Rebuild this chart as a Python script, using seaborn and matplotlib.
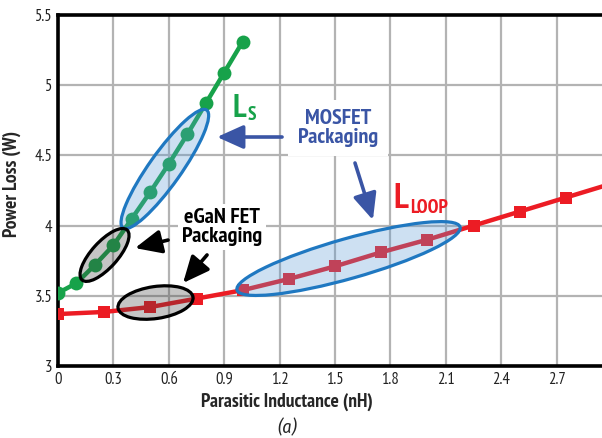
import numpy as np
import pandas as pd
import matplotlib
matplotlib.use("Agg")
import matplotlib.pyplot as plt
import seaborn as sns
from matplotlib.patches import Ellipse
from matplotlib.transforms import IdentityTransform

# ---------------- data ----------------
ls_x = [0.0, 0.1, 0.2, 0.3, 0.4, 0.5, 0.6, 0.7, 0.8, 0.9, 1.0]
ls_y = [3.52, 3.59, 3.72, 3.86, 4.05, 4.24, 4.44, 4.65, 4.87, 5.09, 5.31]
loop_x = [0.0, 0.25, 0.5, 0.75, 1.0, 1.25, 1.5, 1.75, 2.0, 2.25, 2.5, 2.75, 3.0]
loop_y = [3.37, 3.385, 3.42, 3.48, 3.54, 3.62, 3.71, 3.81, 3.90, 4.00, 4.10, 4.20, 4.30]
x_ticks = [0, 0.3, 0.6, 0.9, 1.2, 1.5, 1.8, 2.1, 2.4, 2.7]
x_tick_labels = ["0", "0.3", "0.6", "0.9", "1.2", "1.5", "1.8", "2.1", "2.4", "2.7"]
y_ticks = [3, 3.5, 4, 4.5, 5, 5.5]
y_tick_labels = ["3", "3.5", "4", "4.5", "5", "5.5"]

GREEN = "#17a24a"
RED = "#ec1c24"
BLUE_TXT = "#3a55a5"
BLUE_EDGE = "#1f78c1"

sns.set_style("white")
plt.rcParams["font.family"] = ["PT Sans Narrow", "Roboto Condensed", "DejaVu Sans"]

W, H = 602, 438
fig = plt.figure(figsize=(W / 100, H / 100), dpi=100)
ax = fig.add_axes([58 / W, (438 - 366) / H, (W - 58) / W, 351 / H])

df_ls = pd.DataFrame({"x": ls_x, "y": ls_y})
df_loop = pd.DataFrame({"x": loop_x, "y": loop_y})
sns.lineplot(data=df_loop, x="x", y="y", ax=ax, color=RED, lw=3.2, marker="s",
             markersize=8.5, markeredgewidth=0, zorder=4)
sns.lineplot(data=df_ls, x="x", y="y", ax=ax, color=GREEN, lw=3.2, marker="o",
             markersize=10, markeredgewidth=0, zorder=4)

ax.set_xlim(0, (W - 58) / 184.7)
ax.set_ylim(3, 5.5)
ax.set_xticks(x_ticks)
ax.set_xticklabels(x_tick_labels)
ax.set_yticks(y_ticks)
ax.set_yticklabels(y_tick_labels)
ax.grid(True, color="#b3b3b3", lw=1.6, zorder=0)
ax.set_axisbelow(True)
ax.tick_params(length=0, labelsize=12, pad=4, labelcolor="#222222")
for s in ["left", "top", "bottom"]:
    ax.spines[s].set_linewidth(2.6)
    ax.spines[s].set_color("black")
ax.spines["right"].set_visible(False)
ax.set_xlabel("Parasitic Inductance (nH)", fontsize=14, fontweight="bold")
ax.set_ylabel("Power Loss (W)", fontsize=14, fontweight="bold")
ax.xaxis.set_label_coords((287 - 58) / (W - 58), -0.075)
ax.yaxis.set_label_coords(-0.068, 0.52)
fig.text(287 / W, 1 - 428 / H, "(a)", fontsize=13, style="italic", fontweight="normal",
         ha="center", va="center",
         family=["Fira Sans Condensed", "Roboto Condensed", "DejaVu Sans"])

fig.canvas.draw()

def ellipse(p0, p1, minor_px, face, edge, alpha):
    a = ax.transData.transform(p0)
    b = ax.transData.transform(p1)
    c = (a + b) / 2
    d = b - a
    ang = np.degrees(np.arctan2(d[1], d[0]))
    L = np.hypot(*d)
    e = Ellipse(c, L, minor_px, angle=ang, transform=IdentityTransform(),
                facecolor=face, edgecolor="none", alpha=alpha, zorder=5)
    fig.add_artist(e)
    e2 = Ellipse(c, L, minor_px, angle=ang, transform=IdentityTransform(),
                 facecolor="none", edgecolor=edge, lw=2.3, zorder=6)
    fig.add_artist(e2)

ellipse((0.352, 3.983), (0.805, 4.823), 32, "#5b9bd5", BLUE_EDGE, 0.3)
ellipse((0.13, 3.613), (0.374, 3.969), 26, "#404040", "black", 0.3)
ellipse((0.325, 3.413), (0.731, 3.491), 32, "#404040", "black", 0.3)
ellipse((0.969, 3.541), (2.177, 3.990), 40, "#5b9bd5", BLUE_EDGE, 0.3)

def arrow(start, tip, color):
    ax.annotate("", xy=tip, xytext=start,
                arrowprops=dict(arrowstyle="-|>,head_length=1.0,head_width=0.45",
                                color=color, lw=2.6, mutation_scale=16,
                                shrinkA=0, shrinkB=0), zorder=7)

arrow((1.213, 4.631), (0.861, 4.631), BLUE_TXT)
arrow((1.608, 4.446), (1.705, 4.040), BLUE_TXT)
arrow((0.596, 3.897), (0.417, 3.840), "black")
arrow((0.807, 3.791), (0.677, 3.591), "black")

ax.text(1.516, 4.695, "MOSFET\nPackaging", color=BLUE_TXT, fontsize=16, fontweight="bold",
        ha="center", va="center", linespacing=0.95, zorder=8,
        bbox=dict(facecolor="white", edgecolor="none", pad=7))
ax.text(0.888, 3.99, "eGaN FET\nPackaging", color="black", fontsize=16, fontweight="bold",
        ha="center", va="center", linespacing=0.95, zorder=8,
        bbox=dict(facecolor="white", edgecolor="none", pad=3))
ax.text(0.947, 4.773, "L", color=GREEN, fontsize=23, fontweight="bold", ha="left", va="baseline", zorder=8)
ax.text(1.029, 4.752, "S", color=GREEN, fontsize=14, fontweight="bold", ha="left", va="baseline", zorder=8)
ax.text(1.814, 4.125, "L", color=RED, fontsize=25, fontweight="bold", ha="left", va="baseline", zorder=8)
ax.text(1.906, 4.09, "LOOP", color=RED, fontsize=14, fontweight="bold", ha="left", va="baseline", zorder=8)

fig.savefig("out.png", dpi=100)
